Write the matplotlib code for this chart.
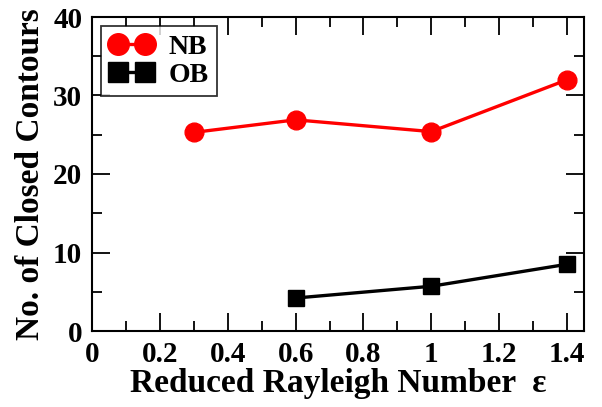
import matplotlib
matplotlib.use("Agg")
import matplotlib.pyplot as plt
from matplotlib.ticker import MultipleLocator

# data
eps_nb = [0.3, 0.6, 1.0, 1.4]
closed_nb = [25.3, 26.9, 25.4, 32.0]
eps_ob = [0.6, 1.0, 1.4]
closed_ob = [4.2, 5.7, 8.5]

plt.rcParams['font.family'] = ['Liberation Serif', 'DejaVu Serif']
plt.rcParams['font.weight'] = 'bold'

fig = plt.figure(figsize=(6.02, 4.07), dpi=100)
ax = fig.add_axes([92/602, 1 - 331/407, (584-92)/602, (331-17)/407])

ax.plot(eps_nb, closed_nb, color='red', lw=2.4, marker='o', ms=13.5, label='NB')
ax.plot(eps_ob, closed_ob, color='black', lw=2.4, marker='s', ms=12, label='OB')

ax.set_xlim(0, 1.45)
ax.set_ylim(0, 40)
ax.xaxis.set_minor_locator(MultipleLocator(0.1))
ax.yaxis.set_major_locator(MultipleLocator(10))
ax.yaxis.set_minor_locator(MultipleLocator(5))
ax.set_xticks([0, 0.2, 0.4, 0.6, 0.8, 1.0, 1.2, 1.4])
ax.set_xticklabels(['0', '0.2', '0.4', '0.6', '0.8', '1', '1.2', '1.4'])
ax.tick_params(which='both', direction='in', top=True, right=True, width=1.3,
               labelsize=21, pad=7)
ax.tick_params(which='major', length=13)
ax.tick_params(which='minor', length=7)
for s in ax.spines.values():
    s.set_linewidth(1.5)

ax.set_xlabel('Reduced Rayleigh Number  ε', fontsize=24, fontweight='bold', labelpad=0)
ax.set_ylabel('No. of Closed Contours', fontsize=24, fontweight='bold', labelpad=5)

leg = ax.legend(loc='upper left', fontsize=20, frameon=True, fancybox=False,
                edgecolor='black', handlelength=1.6, borderpad=0.3,
                labelspacing=0.08, handletextpad=0.55, borderaxespad=0,
                bbox_to_anchor=(0.018, 0.971), numpoints=2, markerscale=1.15)
leg.get_frame().set_linewidth(1.3)

fig.savefig('out.png', dpi=100)
